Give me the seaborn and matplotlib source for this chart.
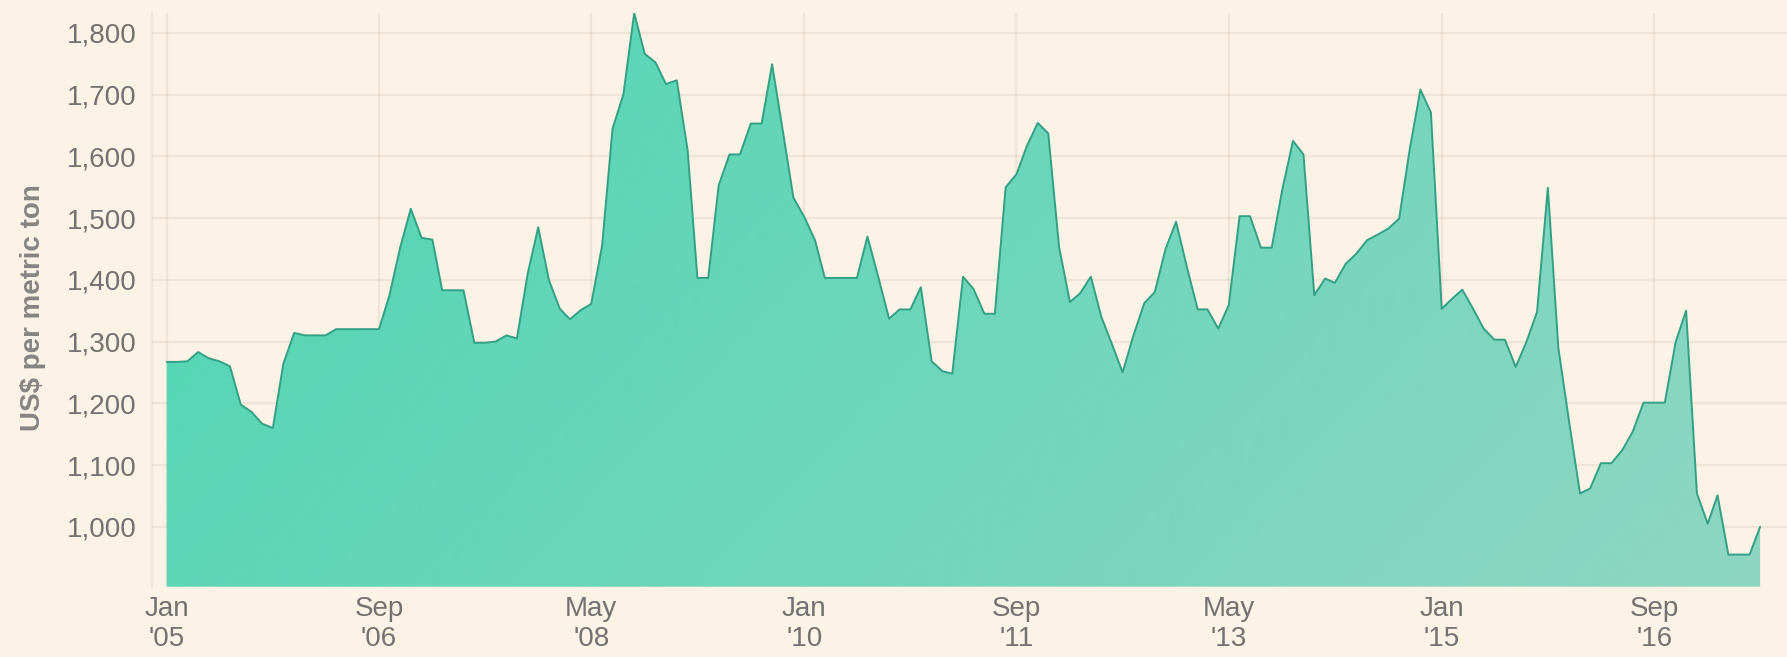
import numpy as np
import pandas as pd
import matplotlib
matplotlib.use('Agg')
import matplotlib.pyplot as plt
import matplotlib.dates as mdates
from matplotlib.ticker import FixedLocator, FuncFormatter
import seaborn as sns

# monthly price, US$ per metric ton, Jan 2005 - Jul 2017
start_month = '2005-01-01'
prices = [1267, 1267, 1268, 1283, 1273, 1268, 1260, 1198, 1186, 1167,
          1160, 1264, 1314, 1310, 1310, 1310, 1320, 1320, 1320, 1320,
          1320, 1375, 1453, 1515, 1468, 1465, 1383, 1383, 1383, 1298,
          1298, 1300, 1310, 1305, 1410, 1485, 1399, 1353, 1336, 1351,
          1361, 1455, 1645, 1700, 1832, 1766, 1752, 1717, 1723, 1610,
          1403, 1403, 1553, 1603, 1603, 1653, 1653, 1749, 1640, 1533,
          1502, 1464, 1403, 1403, 1403, 1403, 1470, 1405, 1337, 1352,
          1352, 1388, 1268, 1252, 1248, 1405, 1385, 1345, 1345, 1550,
          1571, 1617, 1654, 1637, 1453, 1364, 1378, 1405, 1340, 1295,
          1250, 1310, 1362, 1380, 1450, 1494, 1421, 1352, 1352, 1321,
          1359, 1503, 1503, 1452, 1452, 1545, 1625, 1603, 1375, 1402,
          1395, 1426, 1442, 1464, 1473, 1483, 1499, 1610, 1708, 1671,
          1353, 1370, 1384, 1353, 1321, 1303, 1303, 1259, 1300, 1348,
          1549, 1290, 1170, 1054, 1062, 1103, 1103, 1124, 1154, 1201,
          1201, 1201, 1299, 1350, 1054, 1005, 1051, 955, 955, 955,
          1000]

x_ticks = ['2005-01-01', '2006-09-01', '2008-05-01', '2010-01-01',
           '2011-09-01', '2013-05-01', '2015-01-01', '2016-09-01']
y_ticks = [1000, 1100, 1200, 1300, 1400, 1500, 1600, 1700, 1800]
y_minor = [950, 1050, 1150, 1250, 1350, 1450, 1550, 1650, 1750]
y_label = 'US$ per metric ton'

bg = '#fdf2e6'
grid_rgb = '#5a3a1a'          # warm brown, used see-through
grid_alpha = 0.075
grid_col = (0x5a / 255, 0x3a / 255, 0x1a / 255, grid_alpha)
text_col = '#727272'
line_col = '#32a084'

df = pd.DataFrame({'month': pd.date_range(start_month, periods=len(prices), freq='MS'),
                   'price': prices})

sns.set_theme(style='white')
plt.rcParams['font.family'] = ['Liberation Sans', 'DejaVu Sans']

fig = plt.figure(figsize=(17.87, 6.57), dpi=100, facecolor=bg)
ax = fig.add_axes([0.0851, 0.107, 0.9149, 0.8732])
ax.set_facecolor(bg)

ymin, ymax = 903, 1832
x0 = pd.Timestamp(start_month) - pd.Timedelta(days=42)
x1 = pd.Timestamp(start_month) + pd.Timedelta(days=4641)

# area with a diagonal gradient, clipped to the filled region
poly = ax.fill_between(df['month'], df['price'], ymin, facecolor='none', edgecolor='none')
c0 = np.array([0x4c, 0xd6, 0xb2]) / 255
c1 = np.array([0x90, 0xd6, 0xc3]) / 255
gx, gy = np.meshgrid(np.linspace(0, 1, 400), np.linspace(0, 1, 200))
t = (0.75 * gx + 0.25 * gy)[..., None]
grad = c0 * (1 - t) + c1 * t
im = ax.imshow(grad, extent=[mdates.date2num(x0), mdates.date2num(x1), ymin, ymax],
               aspect='auto', origin='upper', zorder=1, interpolation='bilinear')
im.set_clip_path(poly.get_paths()[0], transform=ax.transData)

sns.lineplot(data=df, x='month', y='price', ax=ax, color=line_col, lw=1.4, zorder=3)

ax.set_xlim(x0, x1)
ax.set_ylim(ymin, ymax)

# x axis ticks
major_x = [mdates.date2num(pd.Timestamp(d)) for d in x_ticks]
step = (major_x[1] - major_x[0]) / 6
minor_x = [v for v in np.arange(major_x[0] - 6 * step, mdates.date2num(x1), step)
           if all(abs(v - m) > 1 for m in major_x)]
ax.xaxis.set_major_locator(FixedLocator(major_x))
ax.xaxis.set_minor_locator(FixedLocator(minor_x))
ax.xaxis.set_major_formatter(FuncFormatter(
    lambda v, p: mdates.num2date(v).strftime("%b\n'%y")))

ax.yaxis.set_major_locator(FixedLocator(y_ticks))
ax.yaxis.set_minor_locator(FixedLocator(y_minor))
ax.yaxis.set_major_formatter(FuncFormatter(lambda v, p: f'{int(v):,}'))

ax.tick_params(axis='x', which='major', length=0, pad=7, labelsize=20, labelcolor=text_col)
ax.tick_params(axis='x', which='minor', length=3, width=1.5, color=grid_col, direction='out')
ax.tick_params(axis='y', which='major', length=0, pad=11, labelsize=20, labelcolor=text_col)
ax.tick_params(axis='y', which='minor', length=10, width=1.5, color=grid_col, direction='out')
for lab in ax.get_xticklabels():
    lab.set_multialignment('center')

# grid drawn over the area, under the line
ax.grid(True, which='major', color=grid_rgb, alpha=grid_alpha, lw=1.6)
for gl in ax.get_xgridlines() + ax.get_ygridlines():
    gl.set_zorder(2)

for side in ['top', 'right', 'bottom']:
    ax.spines[side].set_visible(False)
ax.spines['left'].set_color(grid_col)
ax.spines['left'].set_linewidth(1.6)

ax.set_xlabel('')
ax.set_ylabel(y_label, fontsize=20, fontweight='bold', color='#858585')
ax.yaxis.set_label_coords(-0.0648, 0.487)

fig.savefig('out.png', dpi=100, facecolor=bg)
